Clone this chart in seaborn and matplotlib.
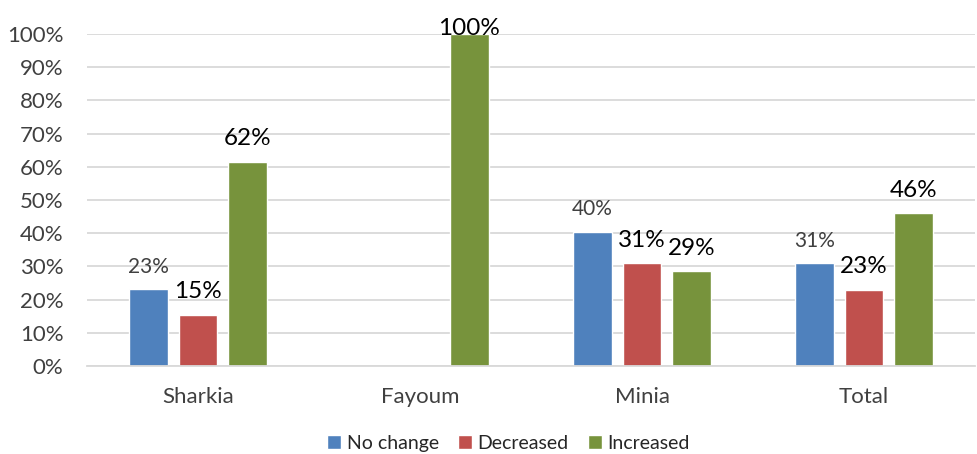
import matplotlib
matplotlib.use("Agg")
import matplotlib.pyplot as plt
import seaborn as sns
import pandas as pd

regions = ["Sharkia", "Fayoum", "Minia", "Total"]
series = ["No change", "Decreased", "Increased"]
no_change = [23.1, 0, 40.5, 31.0]
decreased = [15.4, 0, 31.0, 23.0]
increased = [61.5, 100, 28.6, 46.0]
colors = ["#4f81bd", "#c0504d", "#77933c"]

df = pd.DataFrame({
    "region": regions * 3,
    "status": [s for s in series for _ in regions],
    "pct": no_change + decreased + increased,
})

sns.set_style("white")
plt.rcParams["font.family"] = ["Lato", "DejaVu Sans"]

fig = plt.figure(figsize=(9.78, 4.54), dpi=100)
ax = fig.add_axes([0.089, 0.194, 0.908, 0.731])

sns.barplot(data=df, x="region", y="pct", hue="status", order=regions,
            hue_order=series, palette=colors, width=0.667, gap=0.22,
            saturation=1, ax=ax, legend=True)

# data labels: blue ones smaller and grey, the others black and larger
for i, cont in enumerate(ax.containers):
    for bar, v in zip(cont, [no_change, decreased, increased][i]):
        if v == 0:
            continue
        if i == 0:
            kw = dict(fontsize=15, color="#404040")
        else:
            kw = dict(fontsize=17.5, color="black")
        if v > 90:
            # no room above the bar, sits on its top edge
            off, va = -1, "baseline"
        else:
            off, va = 9, "bottom"
        ax.annotate(f"{round(v):.0f}%", (bar.get_x() + bar.get_width() / 2, v),
                    xytext=(0, off), textcoords="offset points",
                    ha="center", va=va, annotation_clip=False, **kw)

ax.set_ylim(0, 100)
ax.set_xlim(-0.5, 3.5)
ax.set_yticks(range(0, 101, 10))
ax.set_yticklabels([f"{t}%" for t in range(0, 101, 10)], fontsize=16, color="#404040")
ax.tick_params(axis="x", labelsize=16, labelcolor="#404040", length=0, pad=15)
ax.tick_params(axis="y", length=0, pad=17)
ax.set_xticks([-0.5, 0.5, 1.5, 2.5, 3.5], minor=True)
ax.tick_params(axis="x", which="minor", length=6, color="#d9d9d9", direction="out")
ax.yaxis.grid(True, color="#d9d9d9", linewidth=1.3)
ax.set_axisbelow(True)
for s in ["top", "right", "left"]:
    ax.spines[s].set_visible(False)
ax.spines["bottom"].set_color("#d9d9d9")
ax.spines["bottom"].set_linewidth(1.3)
ax.set_xlabel("")
ax.set_ylabel("")

handles, labels = ax.get_legend_handles_labels()
ax.get_legend().remove()
fig.legend(handles, labels, loc="center", bbox_to_anchor=(0.52, 0.024),
           ncol=3, frameon=False, fontsize=14, handlelength=0.7,
           handleheight=0.7, handletextpad=0.3, columnspacing=1.0,
           borderpad=0, borderaxespad=0)

fig.savefig("out.png", dpi=100)
